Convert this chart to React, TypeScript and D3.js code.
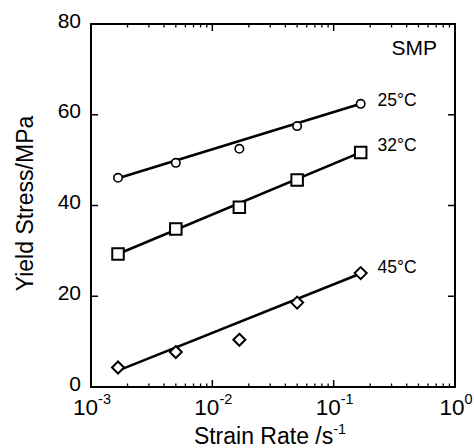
import React from "react";
import * as d3 from "d3";

const strainRates = [0.00167, 0.005, 0.0167, 0.05, 0.167];
const stress25 = [46.1, 49.4, 52.5, 57.5, 62.4];
const stress32 = [29.3, 34.8, 39.6, 45.6, 51.7];
const stress45 = [4.3, 7.7, 10.4, 18.6, 25.1];
const fit25 = [46.0, 62.4];
const fit32 = [29.3, 51.7];
const fit45 = [3.6, 25.0];
const seriesLabels = ["25°C", "32°C", "45°C"];
const yTicks = [0, 20, 40, 60, 80];
const xTickExps = [-3, -2, -1, 0];

const W = 474, H = 448;
const L = 91, R = 455, T = 24, B = 387;

export default function App() {
  const x = d3.scaleLog().domain([1e-3, 1]).range([L, R]);
  const y = d3.scaleLinear().domain([0, 80]).range([B, T]);
  const font = "Arial, 'Liberation Sans', Helvetica, sans-serif";

  const minor: number[] = [];
  for (let e = -3; e < 0; e++) for (let m = 2; m <= 9; m++) minor.push(m * Math.pow(10, e));
  const majors = xTickExps.map((e) => Math.pow(10, e));

  const line = d3.line<[number, number]>().x((d) => x(d[0])).y((d) => y(d[1]));
  const fits = [fit25, fit32, fit45].map((f) => [
    [strainRates[0], f[0]],
    [strainRates[strainRates.length - 1], f[1]],
  ] as [number, number][]);

  const circle = d3.symbol().type(d3.symbolCircle).size(Math.PI * 4.2 * 4.2)();
  const square = d3.symbol().type(d3.symbolSquare).size(11.5 * 11.5)();
  const diamondPath = "M0,-6L6,0L0,6L-6,0Z";

  const labelPos = [
    { x: 377.5, y: 106 },
    { x: 377.5, y: 151 },
    { x: 377.5, y: 273 },
  ];

  return (
    <svg width={W} height={H} style={{ position: "absolute", left: 0, top: 0, background: "#fff" }} fontFamily={font}>
      <rect x={0} y={0} width={W} height={H} fill="#fff" />
      {fits.map((f, i) => (
        <path key={i} d={line(f) || ""} fill="none" stroke="#000" strokeWidth={2.6} />
      ))}
      {strainRates.map((r, i) => (
        <path key={"c" + i} d={circle || ""} transform={`translate(${x(r)},${y(stress25[i])})`} fill="#fff" stroke="#000" strokeWidth={1.6} />
      ))}
      {strainRates.map((r, i) => (
        <path key={"s" + i} d={square || ""} transform={`translate(${x(r)},${y(stress32[i])})`} fill="#fff" stroke="#000" strokeWidth={2} />
      ))}
      {strainRates.map((r, i) => (
        <path key={"d" + i} d={diamondPath} transform={`translate(${x(r)},${y(stress45[i])})`} fill="#fff" stroke="#000" strokeWidth={2} />
      ))}
      <rect x={L} y={T} width={R - L} height={B - T} fill="none" stroke="#000" strokeWidth={2} />
      {yTicks.slice(1, -1).map((t) => (
        <g key={"yt" + t}>
          <line x1={L} x2={L + 7} y1={y(t)} y2={y(t)} stroke="#000" strokeWidth={1.5} />
          <line x1={R} x2={R - 7} y1={y(t)} y2={y(t)} stroke="#000" strokeWidth={1.5} />
        </g>
      ))}
      {yTicks.map((t) => (
        <text key={"yl" + t} x={81} y={y(t) + 3.5} textAnchor="end" fontSize={21} fill="#000">{t}</text>
      ))}
      {minor.map((m, i) => (
        <g key={"mx" + i}>
          <line x1={x(m)} x2={x(m)} y1={B} y2={B - 3.5} stroke="#000" strokeWidth={1.3} />
          <line x1={x(m)} x2={x(m)} y1={T} y2={T + 3.5} stroke="#000" strokeWidth={1.3} />
        </g>
      ))}
      {majors.slice(1, -1).map((m, i) => (
        <g key={"Mx" + i}>
          <line x1={x(m)} x2={x(m)} y1={B} y2={B - 7} stroke="#000" strokeWidth={1.5} />
          <line x1={x(m)} x2={x(m)} y1={T} y2={T + 7} stroke="#000" strokeWidth={1.5} />
        </g>
      ))}
      {xTickExps.map((e, i) => (
        <text key={"xl" + i} x={x(majors[i]) + 1} y={415} textAnchor="middle" fontSize={22.5} fill="#000">
          10<tspan fontSize={14.5} dy={-11}>{e}</tspan>
        </text>
      ))}
      <text x={270} y={444} textAnchor="middle" fontSize={23} fill="#000">
        Strain Rate /s<tspan fontSize={14.5} dy={-10}>-1</tspan>
      </text>
      <text transform={`translate(33,203.5) rotate(-90)`} textAnchor="middle" fontSize={23} fill="#000">
        Yield Stress/MPa
      </text>
      <text x={437} y={55} textAnchor="end" fontSize={21} fill="#000">SMP</text>
      {seriesLabels.map((s, i) => (
        <text key={"lab" + i} x={labelPos[i].x} y={labelPos[i].y} fontSize={17.5} fill="#000">{s}</text>
      ))}
    </svg>
  );
}
